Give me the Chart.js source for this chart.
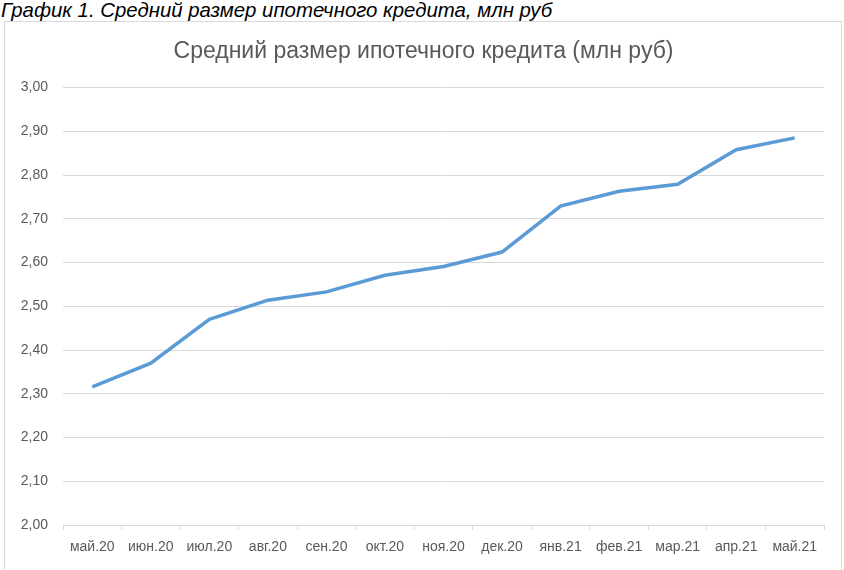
<!DOCTYPE html>
<html>
<head>
<meta charset="utf-8">
<script src="https://cdn.jsdelivr.net/npm/chart.js@4"></script>
<style>
  html, body { margin: 0; padding: 0; background: #fff; }
  body { width: 844px; height: 570px; position: relative; overflow: hidden; }
  #caption {
    position: absolute; left: 1px; top: -1px;
    font-family: "Liberation Sans", Arial, sans-serif;
    font-style: italic; font-size: 20.4px; color: #000;
    white-space: nowrap;
  }
  #frame {
    position: absolute; left: 4px; top: 21px; width: 838px; height: 560px;
    border: 1px solid #d9d9d9; box-sizing: border-box;
  }
  #wrap { position: absolute; left: 0; top: 0; width: 844px; height: 570px; }
</style>
</head>
<body>
<div id="caption">График 1. Средний размер ипотечного кредита, млн руб</div>
<div id="frame"></div>
<div id="wrap"><canvas id="chart" width="844" height="570"></canvas></div>
<script>
const months = ['май.20', 'июн.20', 'июл.20', 'авг.20', 'сен.20', 'окт.20', 'ноя.20',
                'дек.20', 'янв.21', 'фев.21', 'мар.21', 'апр.21', 'май.21'];
const avgLoan = [2.316, 2.370, 2.470, 2.514, 2.533, 2.571, 2.591,
                 2.624, 2.729, 2.763, 2.779, 2.858, 2.885];
const yMin = 2.0;
const yMax = 3.0;
const yStep = 0.1;

const gray = '#595959';
const gridGray = '#d9d9d9';
const font = 'Liberation Sans, Arial, sans-serif';

// centre the title on the frame, not on the padded layout box
const centreTitle = {
    id: 'centreTitle',
    afterLayout(chart) {
        if (chart.titleBlock) {
            chart.titleBlock.left = 4;
            chart.titleBlock.right = 843;
        }
    }
};

const ctx = document.getElementById('chart').getContext('2d');
new Chart(ctx, {
    type: 'line',
    data: {
        labels: months,
        datasets: [{
            label: 'Средний размер ипотечного кредита',
            data: avgLoan,
            borderColor: '#5b9bd5',
            borderWidth: 3.5,
            pointRadius: 0,
            tension: 0,
            fill: false
        }]
    },
    options: {
        responsive: false,
        animation: false,
        layout: {
            padding: { top: 21, right: 20, left: 0, bottom: 0 }
        },
        scales: {
            x: {
                offset: true,
                grid: {
                    offset: true,
                    drawOnChartArea: false,
                    tickLength: 5,
                    color: gridGray
                },
                border: { color: gridGray },
                ticks: {
                    color: gray,
                    padding: 9,
                    maxRotation: 0,
                    font: { family: font, size: 14 }
                },
                afterFit: (scale) => { scale.height = 45; }
            },
            y: {
                min: yMin,
                max: yMax,
                grid: {
                    drawTicks: false,
                    color: gridGray
                },
                border: { display: false },
                ticks: {
                    stepSize: yStep,
                    color: gray,
                    padding: 15,
                    font: { family: font, size: 14 },
                    callback: (v) => Number(v).toFixed(2).replace('.', ',')
                },
                afterFit: (scale) => { scale.width = 63; }
            }
        },
        plugins: {
            legend: { display: false },
            tooltip: { enabled: false },
            title: {
                display: true,
                text: 'Средний размер ипотечного кредита (млн руб)',
                color: gray,
                font: { family: font, size: 23, weight: 'normal' },
                padding: { top: 17, bottom: 22 }
            }
        }
    },
    plugins: [centreTitle]
});
</script>
</body>
</html>
